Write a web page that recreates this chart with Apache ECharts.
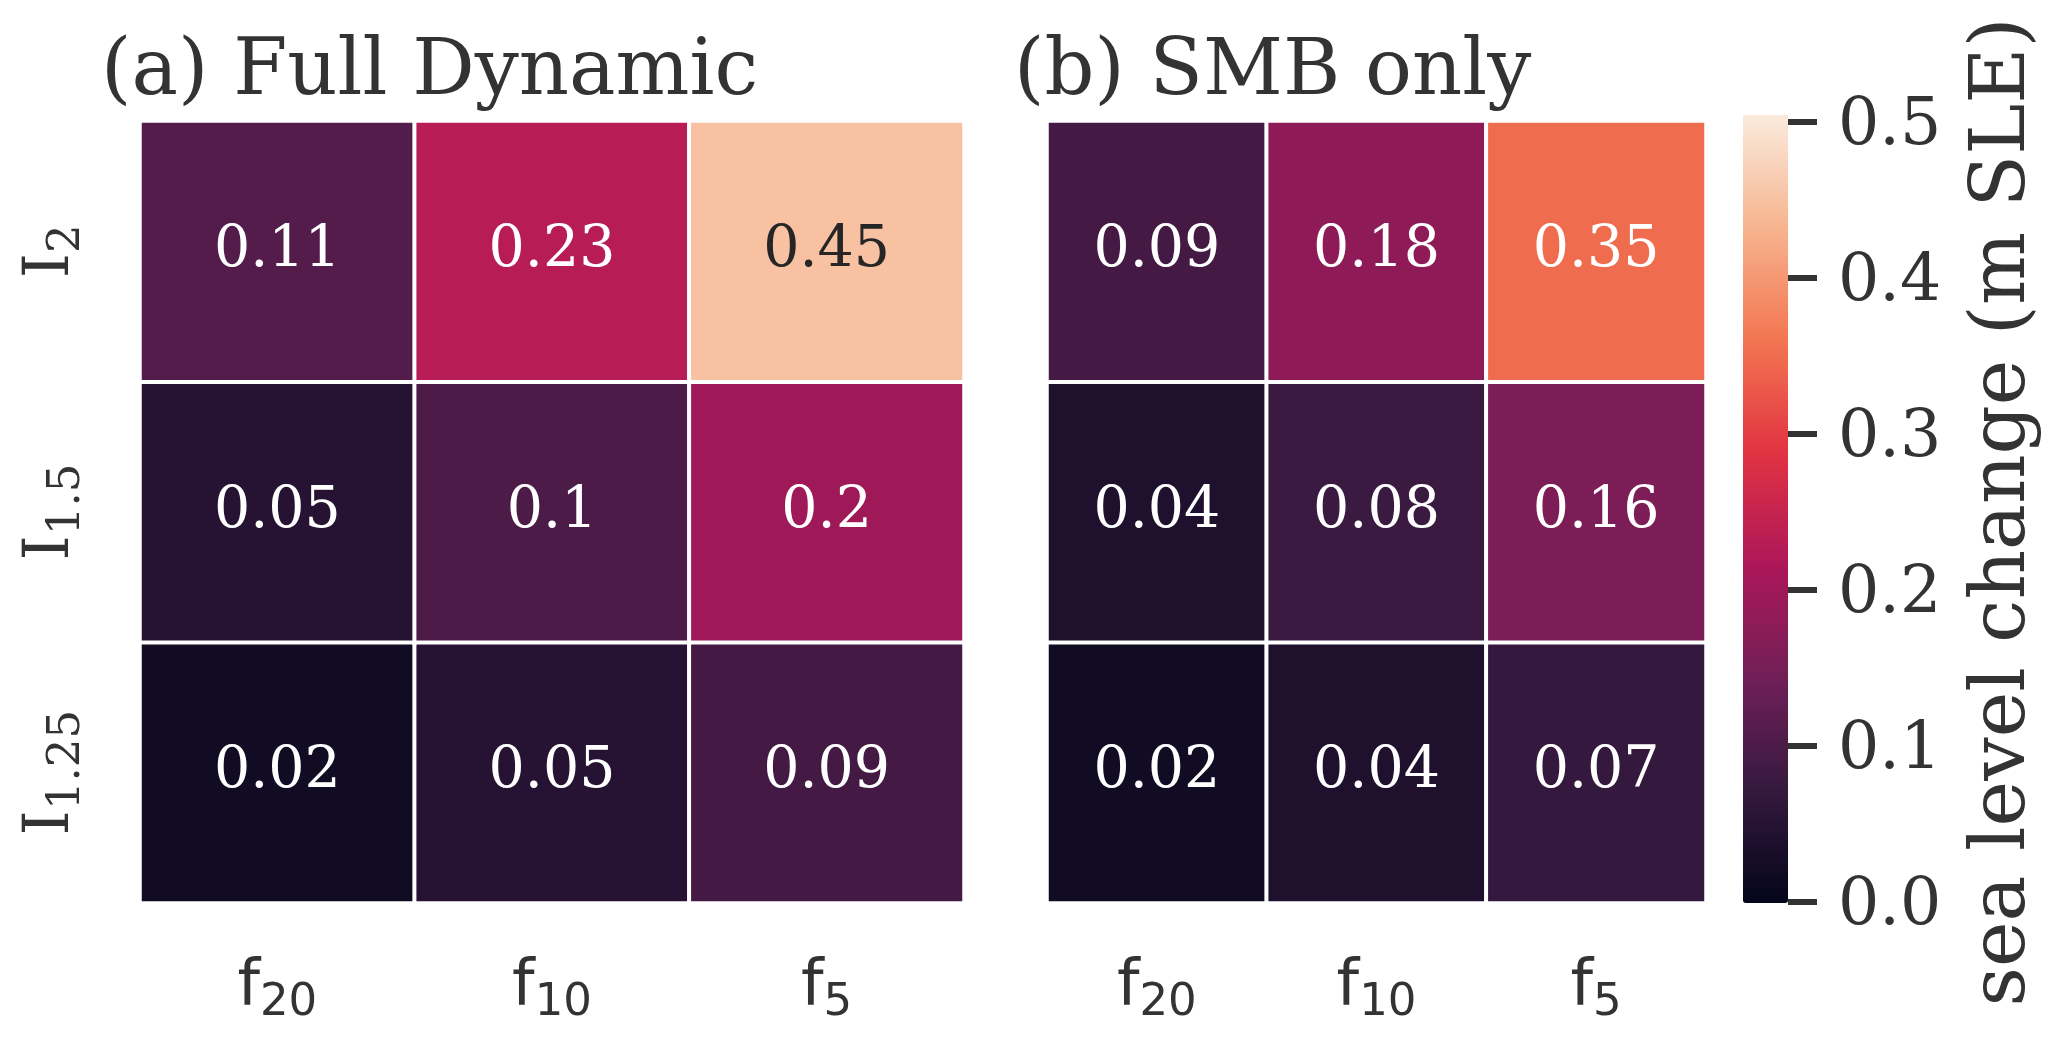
<!DOCTYPE html>
<html><head><meta charset="utf-8">
<script src="https://cdn.jsdelivr.net/npm/echarts@6/dist/echarts.min.js"></script>
<style>html,body{margin:0;padding:0;background:#fff}#c{width:2067px;height:1040px}</style>
</head><body><div id="c"></div>
<script>
// ---- data ----
const xCategories = ['f_20', 'f_10', 'f_5'];
const yCategories = ['I_1.25', 'I_1.5', 'I_2']; // bottom -> top
const fullDynamic = [ // rows bottom -> top
  [0.02, 0.05, 0.09],
  [0.05, 0.1, 0.2],
  [0.11, 0.23, 0.45]
];
const smbOnly = [
  [0.02, 0.04, 0.07],
  [0.04, 0.08, 0.16],
  [0.09, 0.18, 0.35]
];
const panelTitles = ['(a) Full Dynamic', '(b) SMB only'];
const colorbarLabel = 'sea level change (m SLE)';
const colorMin = 0, colorMax = 0.505;
const tickMin = 0, tickMax = 0.5, tickStep = 0.1;
const rocket = ['#03051A', '#35193E', '#701F57', '#AD1759', '#E13342', '#F37651', '#F6B48F', '#FAEBDD'];

// ---- styling ----
const TXT = '#333333';
const SERIF = 'DejaVu Serif';
const SANS = 'DejaVu Sans';

function subLabel(s) {
  const p = s.split('_');
  return '{m|' + p[0] + '}{s|' + p[1] + '}';
}
function cells(matrix) {
  const out = [];
  matrix.forEach((row, yi) => row.forEach((v, xi) => {
    out.push({ value: [xi, yi, v], label: { color: (v - colorMin) / (colorMax - colorMin) > 0.75 ? '#262626' : '#ffffff' } });
  }));
  return out;
}

const grids = [
  { left: 140, top: 121, width: 824, height: 782 },
  { left: 1047, top: 121, width: 659, height: 782 },
  { left: 1743, top: 122, width: 45, height: 780 }
];

const xRich = {
  m: { fontFamily: SANS, fontSize: 64, lineHeight: 80, color: TXT },
  s: { fontFamily: SANS, fontSize: 45, lineHeight: 49, padding: [31, 0, 0, 0], color: TXT }
};
const yRich = {
  m: { fontFamily: SERIF, fontSize: 64, lineHeight: 80, color: TXT },
  s: { fontFamily: SERIF, fontSize: 45, lineHeight: 47, padding: [33, 0, 0, 0], color: TXT }
};

function catX(gi) {
  return {
    type: 'category', gridIndex: gi, data: xCategories, position: 'bottom',
    axisLine: { show: false }, axisTick: { show: false }, splitLine: { show: false },
    axisLabel: { margin: 45, formatter: subLabel, rich: xRich }
  };
}
function catY(gi, showLabels) {
  return {
    type: 'category', gridIndex: gi, data: yCategories,
    axisLine: { show: false }, axisTick: { show: false }, splitLine: { show: false },
    axisLabel: { show: showLabels, rotate: 90, margin: 49, formatter: subLabel, rich: yRich }
  };
}

const cellLabel = {
  show: true, fontFamily: SERIF, fontSize: 57,
  formatter: p => String(p.value[2])
};

const option = {
  backgroundColor: '#ffffff',
  animation: false,
  title: panelTitles.map((t, i) => ({
    text: t, left: i === 0 ? 101 : 1014, top: 35, padding: 0,
    textStyle: { fontFamily: SERIF, fontSize: 78, lineHeight: 78, fontWeight: 'normal', color: TXT }
  })),
  grid: grids,
  xAxis: [catX(0), catX(1), { type: 'value', gridIndex: 2, show: false, min: 0, max: 1 }],
  yAxis: [
    catY(0, true), catY(1, false),
    {
      type: 'value', gridIndex: 2, position: 'right', min: tickMin, max: tickMax, interval: tickStep,
      axisLine: { show: false, onZero: false }, splitLine: { show: false },
      axisTick: { show: true, inside: false, length: 29, lineStyle: { color: TXT, width: 6 } },
      axisLabel: {
        margin: 50, formatter: v => '{v|' + v.toFixed(1) + '}',
        rich: { v: { fontFamily: SERIF, fontSize: 65, lineHeight: 70, color: TXT, padding: [11, 0, 0, 0] } }
      },
      name: colorbarLabel, nameLocation: 'middle', nameRotate: 90, nameGap: 177,
      nameTextStyle: { fontFamily: SERIF, fontSize: 77, lineHeight: 77, color: TXT }
    }
  ],
  visualMap: {
    type: 'continuous', min: colorMin, max: colorMax, seriesIndex: [0, 1],
    calculable: false, hoverLink: false, orient: 'vertical',
    left: 1743, top: 115, itemWidth: 45, itemHeight: 788, padding: 0,
    inRange: { color: rocket }
  },
  series: [
    { type: 'heatmap', xAxisIndex: 0, yAxisIndex: 0, data: cells(fullDynamic), label: cellLabel,
      itemStyle: { borderColor: '#ffffff', borderWidth: 4 }, emphasis: { disabled: true } },
    { type: 'heatmap', xAxisIndex: 1, yAxisIndex: 1, data: cells(smbOnly), label: cellLabel,
      itemStyle: { borderColor: '#ffffff', borderWidth: 4 }, emphasis: { disabled: true } }
  ]
};
const chart = echarts.init(document.getElementById('c'));
chart.setOption(option);
</script>
</body></html>
